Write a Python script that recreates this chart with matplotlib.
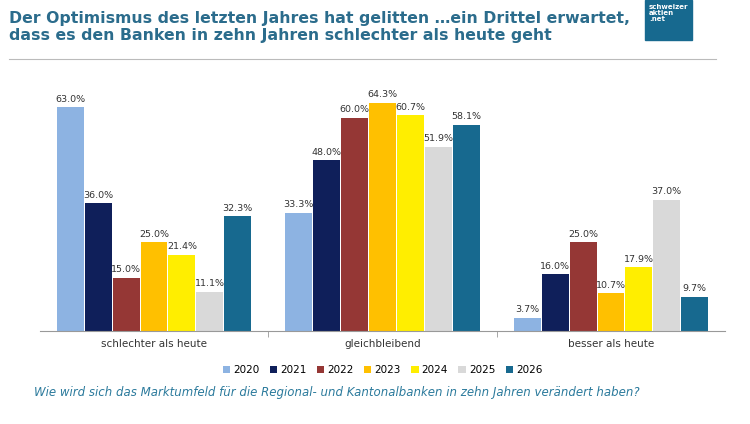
import matplotlib
matplotlib.use("Agg")
import matplotlib.pyplot as plt
import numpy as np
from matplotlib.patches import Rectangle

categories = ["schlechter als heute", "gleichbleibend", "besser als heute"]
years = ["2020", "2021", "2022", "2023", "2024", "2025", "2026"]
values = {
    "2020": [63.0, 33.3, 3.7],
    "2021": [36.0, 48.0, 16.0],
    "2022": [15.0, 60.0, 25.0],
    "2023": [25.0, 64.3, 10.7],
    "2024": [21.4, 60.7, 17.9],
    "2025": [11.1, 51.9, 37.0],
    "2026": [32.3, 58.1, 9.7],
}
colors = ["#8DB3E2", "#0F1F5A", "#953735", "#FFC000", "#FFEE00", "#D9D9D9", "#17698F"]

fig = plt.figure(figsize=(7.5, 4.24), dpi=100)
ax = fig.add_axes([0.053, 0.219, 0.914, 0.587])
n = len(years)
w = 0.122
x = np.arange(len(categories))
for i, y in enumerate(years):
    pos = x + (i - (n - 1) / 2) * w
    ax.bar(pos, values[y], w * 0.96, color=colors[i], label=y)
    for p, v in zip(pos, values[y]):
        ax.text(p, v + 1, f"{v:.1f}%", ha="center", va="bottom", fontsize=6.8, color="#333333")
ax.set_xlim(-0.5, 2.5)
ax.set_ylim(0, 70)
ax.set_yticks([])
for s in ["top", "right", "left"]:
    ax.spines[s].set_visible(False)
ax.spines["bottom"].set_color("#999999")
ax.set_xticks([0.5, 1.5], minor=True)
ax.tick_params(axis="x", which="minor", length=4, color="#999999")
ax.set_xticks(x)
ax.set_xticklabels(categories, fontsize=7.5, color="#333333")
ax.tick_params(axis="x", which="major", length=0, pad=6)
ax.legend(loc="upper center", bbox_to_anchor=(0.5, -0.1), ncol=7, frameon=False,
          fontsize=7.5, handlelength=0.7, handleheight=0.7, columnspacing=1.0, handletextpad=0.3)

fig.text(0.012, 0.975, "Der Optimismus des letzten Jahres hat gelitten …ein Drittel erwartet,\ndass es den Banken in zehn Jahren schlechter als heute geht",
         ha="left", va="top", fontsize=11.3, fontweight="bold", color="#2B6C8C", linespacing=1.2)
fig.add_artist(plt.Line2D([0.012, 0.955], [0.862, 0.862], color="#BBBBBB", lw=0.8))
fig.add_artist(Rectangle((0.86, 0.905), 0.062, 0.095, transform=fig.transFigure, color="#17698F"))
fig.text(0.865, 0.99, "schweizer\naktien\n.net", ha="left", va="top", fontsize=5, color="white",
         fontweight="bold", linespacing=1.0)
fig.text(0.045, 0.075, "Wie wird sich das Marktumfeld für die Regional- und Kantonalbanken in zehn Jahren verändert haben?",
         ha="left", va="center", fontsize=8.5, style="italic", color="#2B7A9C")
fig.savefig("out.png", dpi=100)
